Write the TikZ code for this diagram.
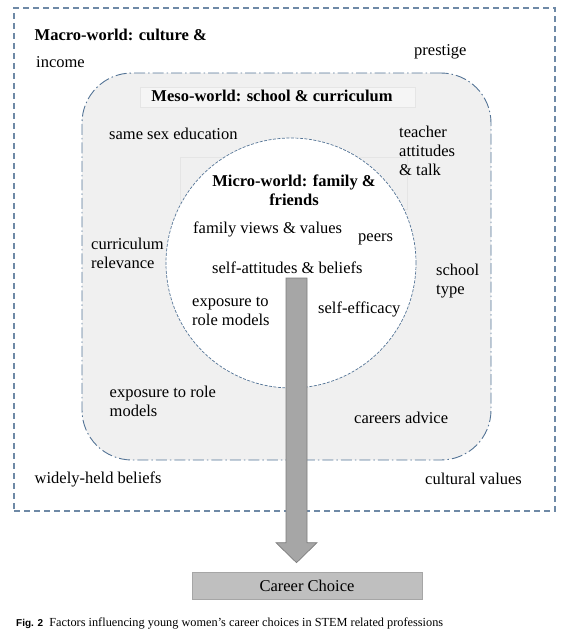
\documentclass[tikz,border=0pt]{standalone}
\usepackage{fontspec}
\setmainfont{Liberation Serif}
\newfontfamily\capsans{Liberation Sans}
\usetikzlibrary{positioning,calc}
\definecolor{worldblue}{RGB}{84,116,150}
\definecolor{mesofill}{RGB}{240,240,240}
\definecolor{titlefill}{RGB}{245,245,245}
\definecolor{arrowgrey}{RGB}{166,166,166}
\definecolor{arrowedge}{RGB}{125,125,125}
\definecolor{choicegrey}{RGB}{191,191,191}

\begin{document}
\begin{tikzpicture}[x=1pt,y=-1pt,
  macrobox/.style={rectangle,draw=worldblue!85,line width=1.1pt,
    dash pattern=on 6pt off 4pt,minimum width=541pt,minimum height=503pt},
  mesobox/.style={rectangle,rounded corners=50pt,draw=worldblue,fill=mesofill,line width=0.9pt,
    dash pattern=on 11pt off 3pt on 1.5pt off 3pt,minimum width=409pt,minimum height=387pt},
  microbox/.style={circle,draw=worldblue,fill=white,line width=0.7pt,
    dash pattern=on 3pt off 1.5pt,minimum size=250pt},
  titlebox/.style={rectangle,draw=black!10,line width=0.4pt,inner sep=0pt},
  title/.style={inner sep=0pt,align=center,font=\fontsize{16.5}{19}\selectfont\bfseries},
  factor/.style={inner sep=0pt,anchor=west,align=left,font=\fontsize{16.5}{19}\selectfont},
  bigarrow/.style={draw=arrowedge,fill=arrowgrey,line width=0.7pt,line join=miter},
  choice/.style={rectangle,draw=black!35,fill=choicegrey,line width=0.6pt,
    minimum width=230pt,minimum height=27pt,font=\fontsize{16.5}{19}\selectfont}
]
\useasboundingbox (0,0) rectangle (572,635);

% the three worlds
\node[macrobox] (macro) at (284.5,259.5) {};
\node[mesobox] (meso) at (286.5,266.5) {};
\node[titlebox,fill=titlefill,minimum width=275pt,minimum height=20pt] (mesoframe) at (277.5,97) {};
\node[titlebox,minimum width=227pt,minimum height=52pt] (microframe) at (293.5,183) {};
\node[microbox] (micro) at (291,263) {};

\node[title,anchor=west] (macrotitle) at (34.5,35) {Macro-world: culture \&};
\node[title] (mesotitle) at (272,96) {Meso-world: school \& curriculum};
\node[title] (microtitle) at (294,190) {Micro-world: family \&\\friends};

% macro factors
\node[factor] (income) at (36,62) {income};
\node[factor] (prestige) at (414,52) {prestige};
\node[factor] (widely) at (34.5,479) {widely-held beliefs};
\node[factor] (cultural) at (425,479) {cultural values};

% meso factors
\node[factor] (samesex) at (109,134) {same sex education};
\node[factor] (teacher) at (399,151) {teacher\\attitudes\\\& talk};
\node[factor] (relevance) at (91,253) {curriculum\\relevance};
\node[factor] (schooltype) at (436,281) {school\\type};
\node[factor] (rolemeso) at (109.5,401) {exposure to role\\models};
\node[factor] (advice) at (354,418) {careers advice};

% micro factors
\node[factor] (family) at (193,229) {family views \& values};
\node[factor] (peers) at (358,239) {peers};
\node[factor] (selfatt) at (212,268) {self-attitudes \& beliefs};
\node[factor] (rolemicro) at (192,311) {exposure to\\role models};
\node[factor] (efficacy) at (318,309) {self-efficacy};

% outcome
\node[choice] (career) at (307,585.5) {Career Choice};
\coordinate (flowtop) at (296.5,278);
\coordinate (flowtip) at ($(career.north)+(-10.5,-9)$);
\draw[bigarrow] ($(flowtop)+(-10.5,0)$) -- ($(flowtop)+(10.5,0)$)
  -- ($(flowtip)+(10.5,-20)$) -- ($(flowtip)+(20.5,-20)$) -- (flowtip)
  -- ($(flowtip)+(-20.5,-20)$) -- ($(flowtip)+(-10.5,-20)$) -- cycle;

\node[inner sep=0pt,anchor=west,font=\fontsize{12.3}{14}\selectfont] (caption) at (16,623)
  {{\capsans\bfseries\fontsize{10}{12}\selectfont Fig. 2}\enspace Factors influencing young women's career choices in STEM related professions};
\end{tikzpicture}
\end{document}
